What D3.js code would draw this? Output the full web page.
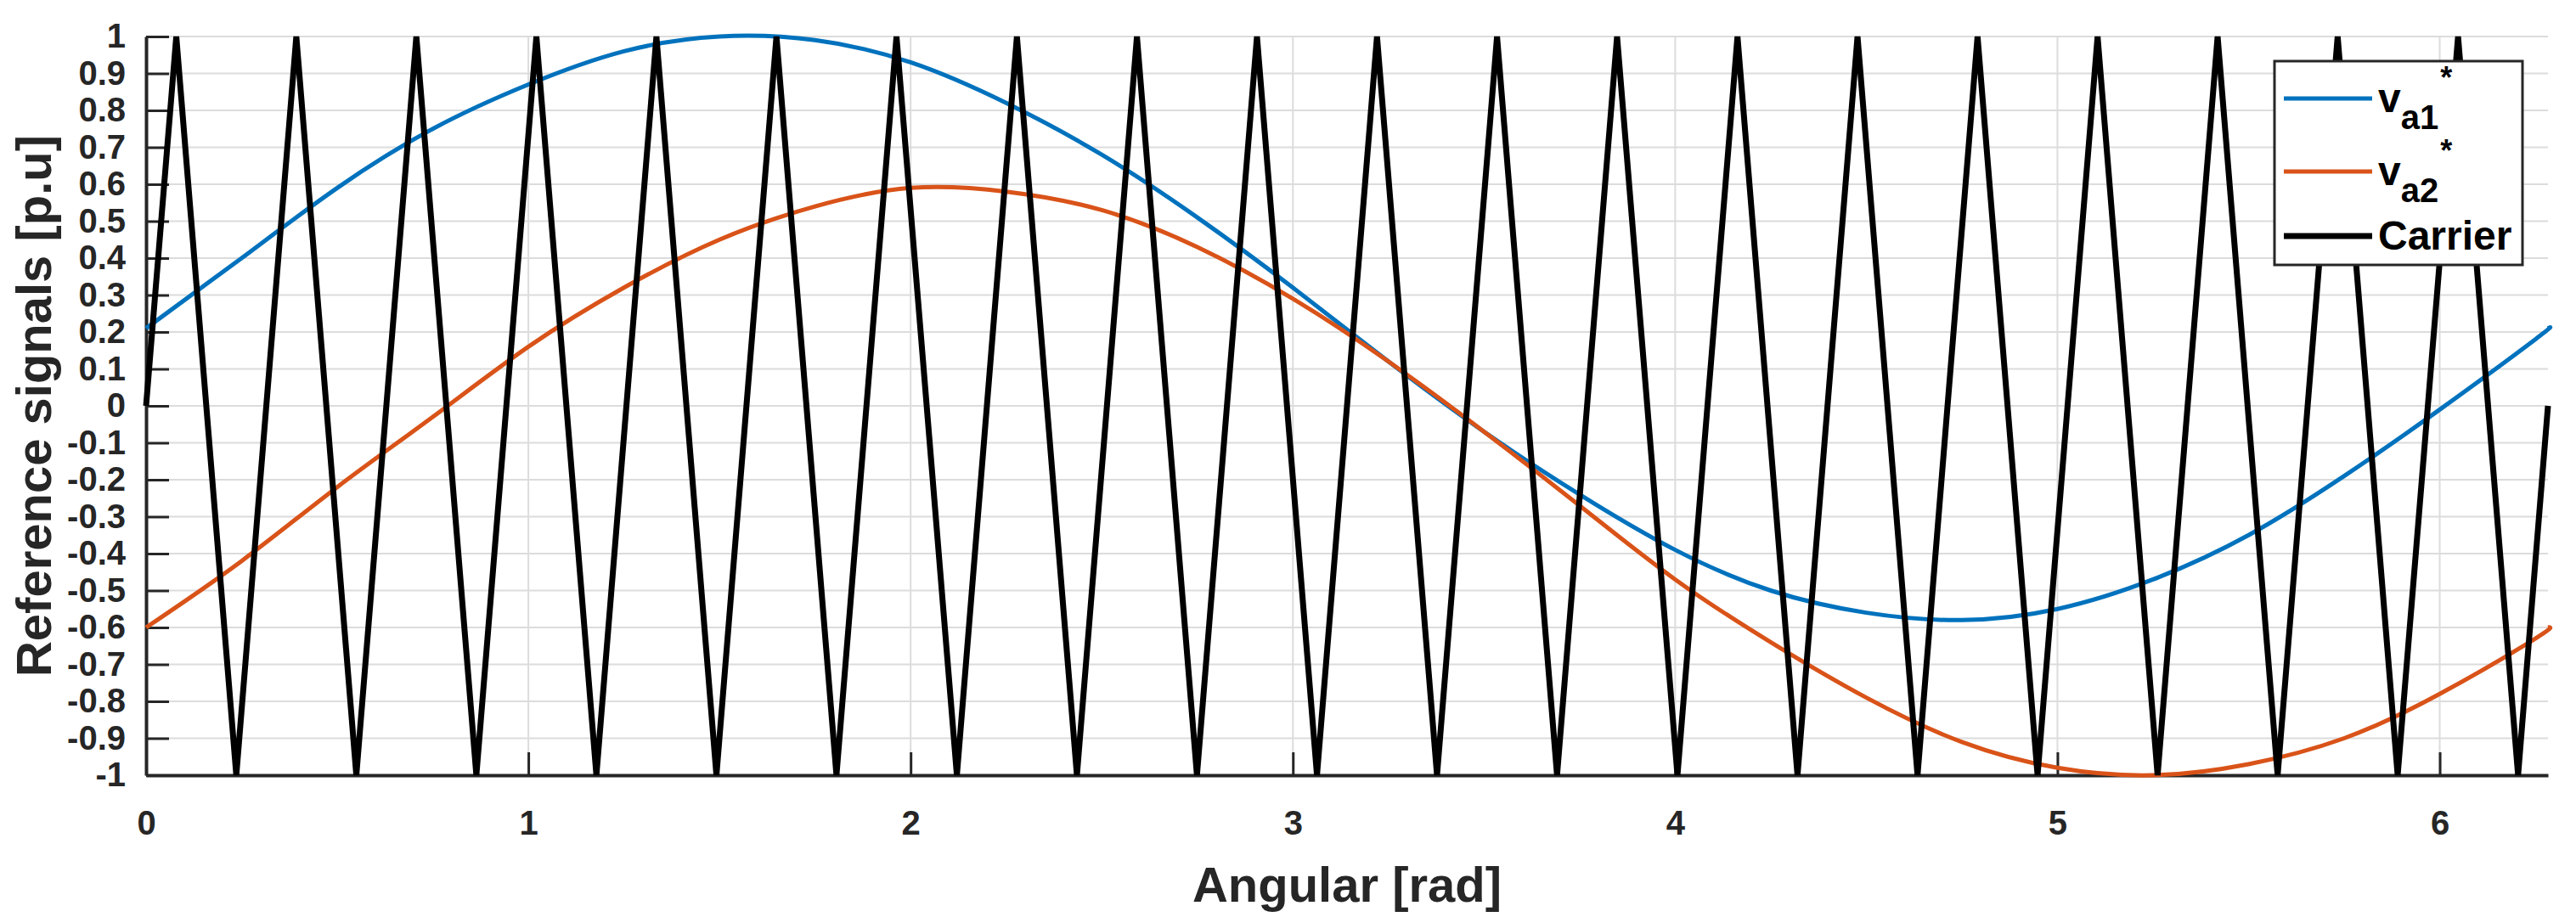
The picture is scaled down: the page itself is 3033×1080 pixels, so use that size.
<!DOCTYPE html>
<html><head><meta charset="utf-8">
<script src="https://cdn.jsdelivr.net/npm/d3@7/dist/d3.min.js"></script>
<style>body{margin:0;background:#fff}svg{display:block}text{font-family:"Liberation Sans",Arial,sans-serif}</style>
</head><body><svg id="c" width="3033" height="1080"></svg>
<script>
const angles = [0,0.25,0.5,0.75,1,1.25,1.5,1.75,2,2.25,2.5,2.75,3,3.25,3.5,3.75,4,4.25,4.5,4.75,5,5.25,5.5,5.75,6,6.25,6.283];
const va1 = [0.21,0.40,0.59,0.75,0.87,0.96,1.00,0.99,0.93,0.82,0.68,0.51,0.32,0.12,-0.07,-0.24,-0.39,-0.50,-0.56,-0.58,-0.55,-0.47,-0.35,-0.19,-0.01,0.18,0.21];
const va2 = [-0.60,-0.42,-0.22,-0.03,0.16,0.32,0.45,0.54,0.59,0.58,0.53,0.43,0.29,0.12,-0.07,-0.27,-0.47,-0.64,-0.79,-0.91,-0.98,-1.00,-0.97,-0.90,-0.78,-0.63,-0.60];
const carrierPeaks = [0.079,0.393,0.707,1.021,1.335,1.649,1.963,2.278,2.592,2.906,3.220,3.534,3.848,4.163,4.477,4.791,5.105,5.419,5.733,6.048];
const carrierTroughs = [0.236,0.550,0.864,1.178,1.492,1.806,2.121,2.435,2.749,3.063,3.377,3.691,4.006,4.320,4.634,4.948,5.262,5.576,5.890,6.205];
const xTicks = [0,1,2,3,4,5,6];
const yTicks = [1,0.9,0.8,0.7,0.6,0.5,0.4,0.3,0.2,0.1,0,-0.1,-0.2,-0.3,-0.4,-0.5,-0.6,-0.7,-0.8,-0.9,-1];
const seriesNames = ["Carrier"];

const L=172,R=3000,T=43,B=913;
const svg=d3.select("#c");
const x=d3.scaleLinear().domain([0,2*Math.PI]).range([L,R]);
const y=d3.scaleLinear().domain([-1,1]).range([B,T]);

svg.append("g").selectAll("line").data(yTicks).join("line")
 .attr("x1",L).attr("x2",R).attr("y1",d=>y(d)).attr("y2",d=>y(d)).attr("stroke","#dcdcdc").attr("stroke-width",2);
svg.append("g").selectAll("line").data(xTicks).join("line")
 .attr("y1",T).attr("y2",B).attr("x1",d=>x(d)).attr("x2",d=>x(d)).attr("stroke","#dcdcdc").attr("stroke-width",2);

const yAx=svg.append("g").attr("transform",`translate(${L},0)`)
 .call(d3.axisLeft(y).tickValues(yTicks).tickSizeInner(-27).tickSizeOuter(0).tickFormat(d=>String(d)));
const xAx=svg.append("g").attr("transform",`translate(0,${B})`)
 .call(d3.axisBottom(x).tickValues(xTicks).tickSizeInner(-27).tickSizeOuter(0).tickFormat(d=>String(d)));
[yAx,xAx].forEach(a=>{a.select(".domain").attr("stroke","#262626").attr("stroke-width",4);
 a.selectAll(".tick line").attr("stroke","#262626").attr("stroke-width",3);
 a.selectAll("text").attr("font-size",40).attr("font-weight","bold").attr("fill","#262626").attr("font-family","Liberation Sans, Arial, sans-serif");});
yAx.selectAll("text").attr("x",-24);
xAx.selectAll("text").attr("y",42);

const line=d3.line().x(d=>x(d[0])).y(d=>y(d[1])).curve(d3.curveNatural);
svg.append("path").datum(angles.map((a,i)=>[a,va1[i]])).attr("d",line).attr("fill","none").attr("stroke","#0072BD").attr("stroke-width",5);
svg.append("path").datum(angles.map((a,i)=>[a,va2[i]])).attr("d",line).attr("fill","none").attr("stroke","#D95319").attr("stroke-width",5);
const cpts=[[0,0]];
carrierPeaks.forEach((p,i)=>{cpts.push([p,1]);cpts.push([carrierTroughs[i],-1]);});
cpts.push([2*Math.PI,0]);
svg.append("path").datum(cpts).attr("d",d3.line().x(d=>x(d[0])).y(d=>y(d[1]))).attr("fill","none").attr("stroke","#000").attr("stroke-width",7).attr("stroke-linejoin","miter");

svg.append("text").attr("x",(L+R)/2).attr("y",1062).attr("text-anchor","middle").attr("font-size",58).attr("font-weight","bold").attr("fill","#262626").text("Angular [rad]");
svg.append("text").attr("transform",`translate(60,${(T+B)/2}) rotate(-90)`).attr("text-anchor","middle").attr("font-size",58).attr("font-weight","bold").attr("fill","#262626").text("Reference signals [p.u]");

const lg=svg.append("g");
lg.append("rect").attr("x",2678).attr("y",72).attr("width",292).attr("height",240).attr("fill","#fff").attr("stroke","#262626").attr("stroke-width",3);
const items=[{c:"#0072BD",s:"a1",y:116},{c:"#D95319",s:"a2",y:202},{c:"#000",s:null,y:278}];
items.forEach(it=>{
 lg.append("line").attr("x1",2689).attr("x2",2793).attr("y1",it.y).attr("y2",it.y).attr("stroke",it.c).attr("stroke-width",it.s?5:7);
 const t=lg.append("text").attr("x",2800).attr("y",it.y+16).attr("font-size",48).attr("font-weight","bold").attr("fill","#000");
 if(it.s){t.append("tspan").text("v");
  t.append("tspan").attr("dy",20).attr("font-size",40).text(it.s);
  t.append("tspan").attr("dx",2).attr("dy",-48).attr("font-size",36).text("*");}
 else t.text(seriesNames[0]);
});
</script></body></html>
